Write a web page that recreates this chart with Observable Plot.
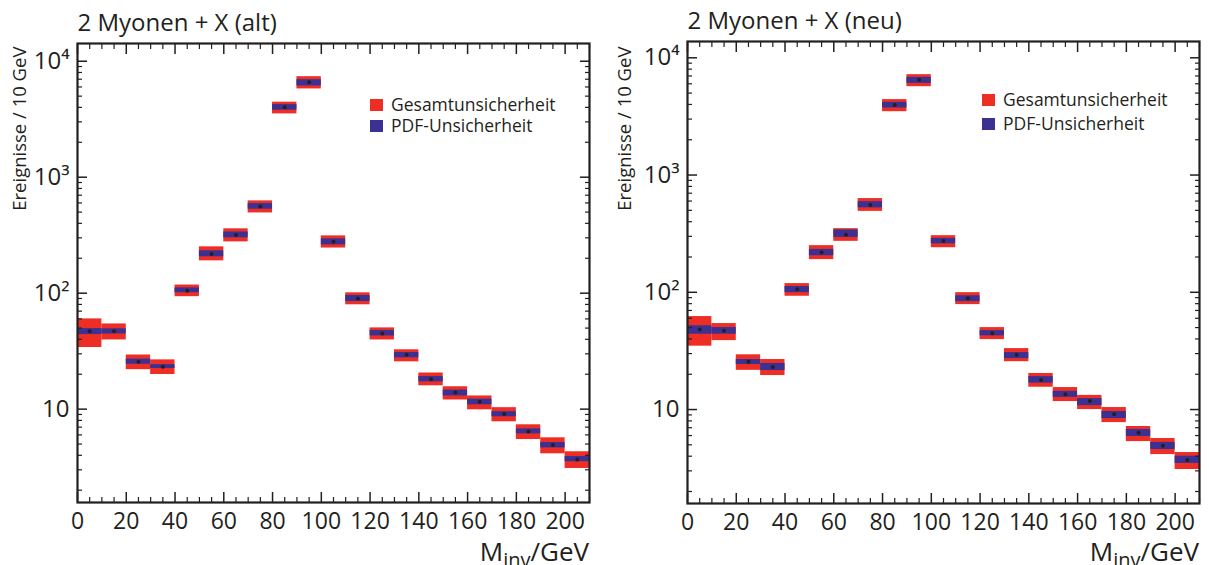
<!DOCTYPE html>
<html>
<head>
<meta charset="utf-8">
<script src="https://cdn.jsdelivr.net/npm/d3@7"></script>
<script src="https://cdn.jsdelivr.net/npm/@observablehq/plot@0.6"></script>
<style>
  body { margin: 0; background: #fff; }
  #page { position: relative; width: 1209px; height: 565px; overflow: hidden;
          font-family: "Open Sans", sans-serif; color: #231f20; }
  .panel { position: absolute; top: 0; }
  .legend { position: absolute; font-size: 17.5px; }
  .legend .sw { position: absolute; width: 13px; height: 12px; }
  .legend .txt { position: absolute; line-height: 1; white-space: nowrap; }
  .xlabel { position: absolute; font-size: 26px; line-height: 1; white-space: nowrap; }
  .xlabel sub { font-size: 20px; vertical-align: -0.3em; line-height: 0; }
</style>
</head>
<body>
<div id="page"></div>
<script>
// Invariant-mass bins, 10 GeV wide
const binLow = [0, 10, 20, 30, 40, 50, 60, 70, 80, 90, 100, 110, 120, 130, 140, 150, 160, 170, 180, 190, 200];
const binWidth = 10;

// "alt" prediction: central value, total uncertainty band, PDF uncertainty band
const altValue    = [47, 47, 25.6, 23.2, 105, 218, 318, 558, 4010, 6590, 277, 89.8, 44.9, 29.4, 18.1, 13.9, 11.6, 9.1, 6.41, 4.9, 3.68];
const altTotLow   = [34, 39.5, 21.9, 19.9, 93.3, 190, 277, 492, 3515, 5770, 245, 79.4, 39.5, 25.6, 15.9, 12.0, 9.87, 7.78, 5.47, 4.12, 3.08];
const altTotHigh  = [60, 54.3, 29.3, 26.6, 117.5, 251, 359, 625, 4436, 7360, 312, 100.7, 50.2, 32.5, 20.5, 15.6, 13.0, 10.3, 7.33, 5.66, 4.29];
const altPdfLow   = [44, 44.5, 24.4, 22.4, 100.8, 206, 300, 530, 3784, 6120, 261, 84.7, 42.8, 27.7, 17.2, 13.0, 10.9, 8.6, 6.12, 4.63, 3.52];
const altPdfHigh  = [49.5, 49.3, 27.0, 24.2, 111, 232, 337, 592, 4227, 6930, 294, 95.5, 47.7, 30.8, 19.1, 14.6, 12.2, 9.5, 6.76, 5.15, 3.9];

// "neu" prediction
const neuValue    = [48.1, 46.9, 25.5, 23.1, 106, 218, 310, 556, 3960, 6500, 274, 89, 44.7, 29.3, 17.9, 13.5, 11.8, 9.12, 6.33, 4.9, 3.72];
const neuTotLow   = [34.7, 38.7, 21.6, 19.5, 92.5, 190, 272, 490, 3470, 5670, 240, 78.5, 39.5, 25.6, 15.5, 11.7, 10.0, 7.74, 5.33, 4.13, 3.08];
const neuTotHigh  = [62.1, 54.1, 29.3, 26.7, 118.6, 250, 349, 630, 4400, 7180, 304, 99.3, 50.0, 33.1, 20.3, 15.4, 13.2, 10.4, 7.17, 5.66, 4.3];
const neuPdfLow   = [43.9, 43.9, 24.2, 21.5, 99.3, 205, 294, 525, 3730, 6050, 259, 83.2, 42.5, 27.2, 16.8, 12.7, 10.8, 8.38, 5.89, 4.56, 3.47];
const neuPdfHigh  = [51.8, 50.0, 26.7, 24.7, 112, 232, 340, 593, 4170, 6810, 288, 93.4, 47.1, 30.6, 19.1, 14.3, 12.4, 9.62, 6.76, 5.24, 4.0];

// Axis ticks and labels
const xMajorTicks = [0, 20, 40, 60, 80, 100, 120, 140, 160, 180, 200];
const xMinorTicks = [5, 10, 15, 25, 30, 35, 45, 50, 55, 65, 70, 75, 85, 90, 95, 105, 110, 115, 125, 130, 135, 145, 150, 155, 165, 170, 175, 185, 190, 195, 205, 210];
const yMajorTicks = [10, 100, 1000, 10000];
const yMajorLabels = ["10", "10²", "10³", "10⁴"];
const yMinorTicks = [2, 3, 4, 5, 6, 7, 8, 9, 20, 30, 40, 50, 60, 70, 80, 90, 200, 300, 400, 500, 600, 700, 800, 900, 2000, 3000, 4000, 5000, 6000, 7000, 8000, 9000];

const legendLabels = ["Gesamtunsicherheit", "PDF-Unsicherheit"];
const yLabel = "Ereignisse / 10 GeV";

const INK = "#231f20";
const RED = "#ee2e24";
const BLUE = "#3b3192";
const FONT = "'Open Sans', sans-serif";

function histogramPanel(cfg) {
  const rows = binLow.map((lo, i) => ({
    lo, hi: lo + binWidth, mid: lo + binWidth / 2,
    v: cfg.value[i], tl: cfg.totLow[i], th: cfg.totHigh[i], pl: cfg.pdfLow[i], ph: cfg.pdfHigh[i]
  }));
  const blank = () => "";
  return Plot.plot({
    width: cfg.width,
    height: 565,
    marginLeft: cfg.marginLeft,
    marginRight: cfg.marginRight,
    marginTop: cfg.marginTop,
    marginBottom: cfg.marginBottom,
    style: {fontFamily: FONT, color: INK, background: "transparent", overflow: "visible"},
    x: {domain: [0, 210]},
    y: {type: "log", domain: cfg.yDomain},
    marks: [
      // total uncertainty (red) and PDF uncertainty (blue) per bin
      Plot.rect(rows, {x1: "lo", x2: "hi", y1: "tl", y2: "th", fill: RED}),
      Plot.rect(rows, {x1: "lo", x2: "hi", y1: "pl", y2: "ph", fill: BLUE}),
      Plot.dot(rows, {x: "mid", y: "v", r: 2, fill: INK, stroke: null}),

      // x axis: labelled bottom, mirrored ticks on top, all pointing inward
      Plot.axisX({anchor: "bottom", ticks: xMajorTicks, tickSize: -10, tickPadding: 20, fontSize: 23, label: null, strokeWidth: 1.5}),
      Plot.axisX({anchor: "bottom", ticks: xMinorTicks, tickSize: -5, tickFormat: blank, label: null, strokeWidth: 1.2}),
      Plot.axisX({anchor: "top", ticks: xMajorTicks, tickSize: -10, tickFormat: blank, label: null, strokeWidth: 1.5}),
      Plot.axisX({anchor: "top", ticks: xMinorTicks, tickSize: -5, tickFormat: blank, label: null, strokeWidth: 1.2}),

      // log y axis: labelled left, mirrored ticks on right
      Plot.axisY({anchor: "left", ticks: yMajorTicks, tickSize: -10, tickPadding: 18, fontSize: 24,
                  tickFormat: d => yMajorLabels[yMajorTicks.indexOf(d)], label: null, strokeWidth: 1.5}),
      Plot.axisY({anchor: "left", ticks: yMinorTicks, tickSize: -5, tickFormat: blank, label: null, strokeWidth: 1.2}),
      Plot.axisY({anchor: "right", ticks: yMajorTicks, tickSize: -10, tickFormat: blank, label: null, strokeWidth: 1.5}),
      Plot.axisY({anchor: "right", ticks: yMinorTicks, tickSize: -5, tickFormat: blank, label: null, strokeWidth: 1.2}),

      Plot.frame({stroke: INK, strokeWidth: 2.2}),

      // panel title and vertical axis title
      Plot.text([cfg.title], {frameAnchor: "top-left", textAnchor: "start", lineAnchor: "bottom",
                              dy: -13, fontSize: 24, fill: INK}),
      Plot.text([yLabel], {frameAnchor: "top-left", textAnchor: "end", lineAnchor: "bottom", rotate: -90,
                           dx: cfg.yLabelDx, dy: cfg.yLabelDy, fontSize: 18.5, fill: INK})
    ]
  });
}

const page = document.getElementById("page");

function addPanel(left, cfg, legendPos, xLabelRight, xLabelTop) {
  const wrap = document.createElement("div");
  wrap.className = "panel";
  wrap.style.left = left + "px";
  wrap.appendChild(histogramPanel(cfg));
  page.appendChild(wrap);

  // legend
  const lg = document.createElement("div");
  lg.className = "legend";
  lg.style.left = legendPos.x + "px";
  lg.style.top = legendPos.y + "px";
  [RED, BLUE].forEach((c, i) => {
    const sw = document.createElement("div");
    sw.className = "sw";
    sw.style.background = c;
    sw.style.left = "0px";
    sw.style.top = (i * legendPos.step) + "px";
    lg.appendChild(sw);
    const t = document.createElement("div");
    t.className = "txt";
    t.textContent = legendLabels[i];
    t.style.left = "21px";
    t.style.top = (i * legendPos.step - 3) + "px";
    lg.appendChild(t);
  });
  page.appendChild(lg);

  // x axis title with subscript
  const xl = document.createElement("div");
  xl.className = "xlabel";
  xl.innerHTML = "M<sub>inv</sub>/GeV";
  xl.style.right = xLabelRight + "px";
  xl.style.top = xLabelTop + "px";
  page.appendChild(xl);
}

addPanel(0, {
  title: "2 Myonen + X (alt)",
  value: altValue, totLow: altTotLow, totHigh: altTotHigh, pdfLow: altPdfLow, pdfHigh: altPdfHigh,
  width: 604, marginLeft: 77, marginRight: 15, marginTop: 43, marginBottom: 63,
  yDomain: [1.567, 14220], yLabelDx: -52, yLabelDy: 3
}, {x: 370, y: 99, step: 21}, 620, 538);

addPanel(609, {
  title: "2 Myonen + X (neu)",
  value: neuValue, totLow: neuTotLow, totHigh: neuTotHigh, pdfLow: neuPdfLow, pdfHigh: neuPdfHigh,
  width: 600, marginLeft: 78, marginRight: 10, marginTop: 41, marginBottom: 62,
  yDomain: [1.58, 13770], yLabelDx: -57, yLabelDy: 5
}, {x: 982, y: 94, step: 24}, 10, 538);
</script>
</body>
</html>
